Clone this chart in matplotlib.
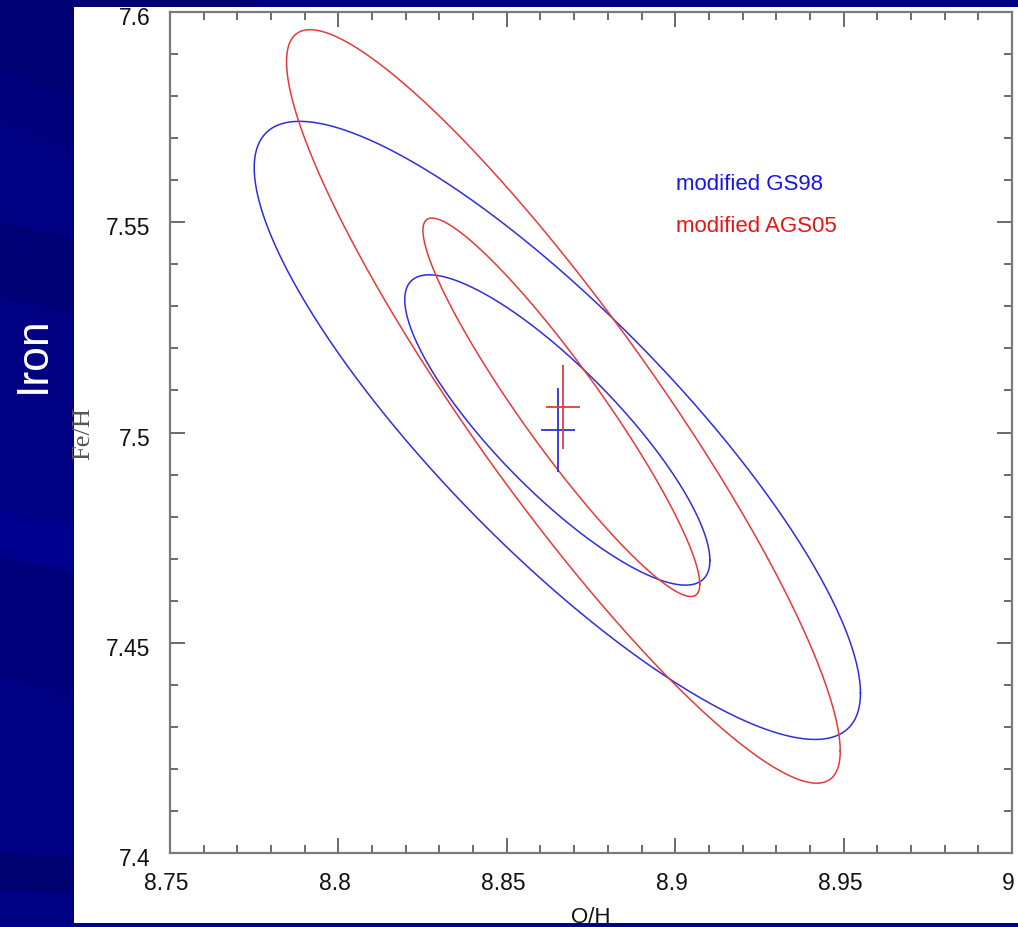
import numpy as np
import matplotlib
matplotlib.use("Agg")
import matplotlib.pyplot as plt
from matplotlib.patches import Rectangle, Polygon
from matplotlib.ticker import MultipleLocator, FuncFormatter
from matplotlib.transforms import ScaledTranslation

# ---- data ----
series = ["modified GS98", "modified AGS05"]
colors = ["#2e2ee0", "#e63a3a"]
text_colors = ["#1515e6", "#e61515"]
# best-fit point (cross) per series
best_oh = [8.8652, 8.8667]
best_feh = [7.5006, 7.5060]
err_oh = [0.005, 0.005]
err_feh = [0.010, 0.010]
# contour ellipses: centre, half-extent in O/H and Fe/H, correlation
ell_cx = [8.865, 8.865, 8.8668, 8.8662]
ell_cy = [7.5005, 7.5006, 7.5062, 7.5060]
ell_sx = [0.0900, 0.0453, 0.0822, 0.0411]
ell_sy = [0.0735, 0.0369, 0.0896, 0.0450]
ell_rho = [-0.850, -0.840, -0.915, -0.935]
ell_series = [0, 0, 1, 1]

W, H = 1018, 927
fig = plt.figure(figsize=(W / 100, H / 100), dpi=100)
fig.patch.set_facecolor("#000082")

# slide background streaks
streaks = [
    ([(0, 1.0), (0.25, 1.0), (0.25, 0.80), (0, 0.93)], "#000072"),
    ([(0, 0.93), (0.25, 0.80), (0.25, 0.74), (0, 0.87)], "#00007c"),
    ([(0, 0.76), (0.25, 0.70), (0.25, 0.62), (0, 0.68)], "#000074"),
    ([(0, 0.45), (0.25, 0.40), (0.25, 0.34), (0, 0.40)], "#00008e"),
    ([(0, 0.40), (0.25, 0.34), (0.25, 0.20), (0, 0.27)], "#00007a"),
    ([(0, 0.08), (0.25, 0.07), (0.25, 0.035), (0, 0.04)], "#000070"),
]
for pts, c in streaks:
    fig.add_artist(Polygon(pts, closed=True, transform=fig.transFigure,
                           facecolor=c, edgecolor="none", zorder=-3))

# white slide panel
fig.add_artist(Rectangle((74 / W, 4 / H), (W - 74) / W, (923 - 7) / H,
                         transform=fig.transFigure, facecolor="white",
                         edgecolor="none", zorder=-2))

ax = fig.add_axes([170 / W, (H - 853) / H, (1012 - 170) / W, (853 - 12) / H])
ax.set_facecolor("none")

t = np.linspace(0, 2 * np.pi, 600)
for cx, cy, sx, sy, r, s in zip(ell_cx, ell_cy, ell_sx, ell_sy, ell_rho, ell_series):
    x = cx + sx * np.cos(t)
    y = cy + sy * (r * np.cos(t) + np.sqrt(1 - r * r) * np.sin(t))
    ax.plot(x, y, color=colors[s], lw=1.1)

for i in range(len(series)):
    ax.errorbar(best_oh[i], best_feh[i], xerr=err_oh[i], yerr=err_feh[i],
                fmt="none", ecolor=colors[i], elinewidth=1.3, capsize=0)

for i, name in enumerate(series):
    fig.text(676 / W, 1 - (185 + 42 * i) / H, name, color=text_colors[i],
             fontsize=16, family="Liberation Sans", va="center", ha="left")

ax.set_xlim(8.75, 9.0)
ax.set_ylim(7.4, 7.6)
ax.xaxis.set_major_locator(MultipleLocator(0.05))
ax.xaxis.set_minor_locator(MultipleLocator(0.01))
ax.yaxis.set_major_locator(MultipleLocator(0.05))
ax.yaxis.set_minor_locator(MultipleLocator(0.01))
fmt = FuncFormatter(lambda v, p: "%g" % round(v, 3))
ax.xaxis.set_major_formatter(fmt)
ax.yaxis.set_major_formatter(fmt)

for sp in ax.spines.values():
    sp.set_color("#7a7a7a")
    sp.set_linewidth(1.6)
ax.tick_params(which="both", direction="in", top=True, right=True,
               color="#6a6a6a", width=1.4)
ax.tick_params(which="major", length=10.5, pad=14, labelsize=16.5,
               labelcolor="#111111")
ax.tick_params(which="minor", length=5.5)
for lab in ax.get_xticklabels() + ax.get_yticklabels():
    lab.set_family("Liberation Sans")
off_y = ScaledTranslation(0, -0.04, fig.dpi_scale_trans)
off_x = ScaledTranslation(-0.035, 0, fig.dpi_scale_trans)
for lab in ax.get_yticklabels():
    lab.set_transform(lab.get_transform() + off_y)
for lab in ax.get_xticklabels():
    lab.set_transform(lab.get_transform() + off_x)

fig.text(83 / W, 1 - 433 / H, "Fe/H", rotation=90, family="Liberation Serif",
         fontsize=19, color="#555555", ha="center", va="center")
fig.text(591 / W, 1 - 923 / H, "O/H", family="Liberation Sans",
         fontsize=16, color="#111111", ha="center", va="baseline", zorder=-1)
fig.text(33 / W, 1 - 355 / H, "Iron", rotation=90, family="Liberation Sans",
         fontsize=32, color="white", ha="center", va="center")

# bottom slide band covering the axis title edge
fig.add_artist(Rectangle((0, 0), 1, 4 / H, transform=fig.transFigure,
                         facecolor="#000090", edgecolor="none", zorder=5))

fig.savefig("out.png", dpi=100)
